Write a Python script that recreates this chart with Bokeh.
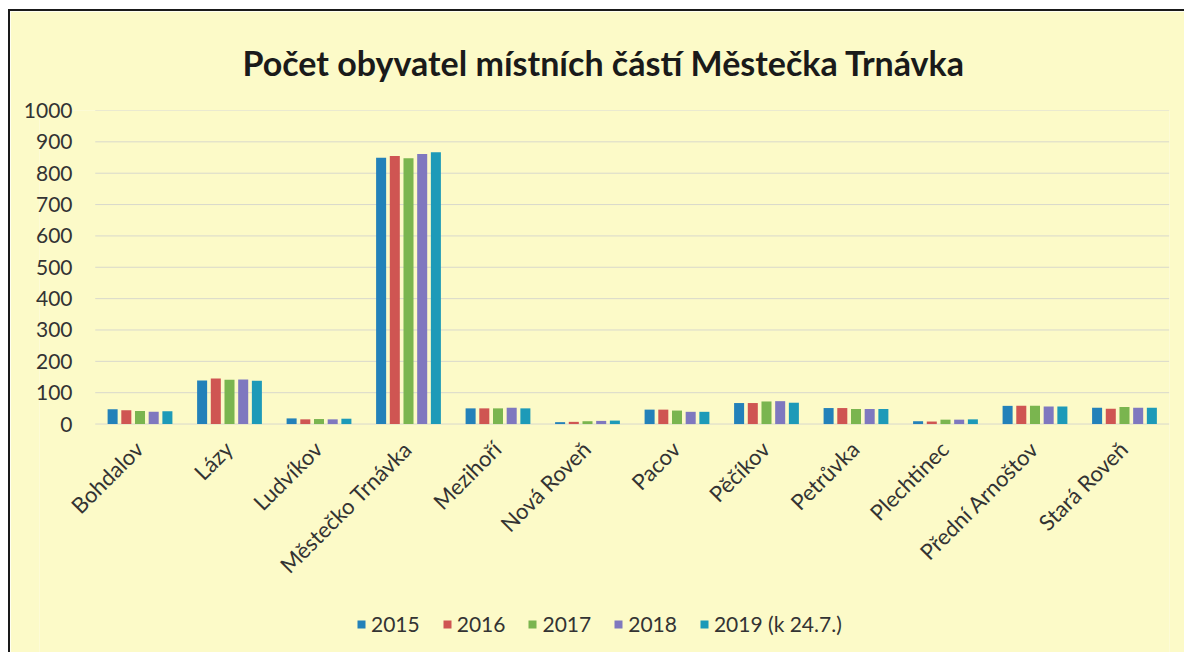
from math import pi
from bokeh.plotting import figure
from bokeh.models import ColumnDataSource, Range1d, Legend, LegendItem, FixedTicker
from bokeh.core.properties import value
from bokeh.transform import dodge
from bokeh.embed import file_html
from bokeh.resources import INLINE

categories = ["Bohdalov", "Lázy", "Ludvíkov", "Městečko Trnávka", "Mezihoří", "Nová Roveň",
              "Pacov", "Pěčíkov", "Petrůvka", "Plechtinec", "Přední Arnoštov", "Stará Roveň"]
series_names = ["2015", "2016", "2017", "2018", "2019 (k 24.7.)"]
v2015 = [47, 139, 18, 849, 50, 6, 46, 67, 51, 9, 58, 52]
v2016 = [44, 145, 15, 855, 50, 7, 46, 67, 51, 8, 58, 49]
v2017 = [42, 141, 16, 848, 50, 9, 43, 72, 48, 14, 58, 54]
v2018 = [39, 142, 15, 861, 52, 10, 39, 73, 48, 14, 56, 52]
v2019 = [41, 138, 17, 867, 50, 11, 39, 68, 48, 15, 56, 52]
y_ticks = [0, 100, 200, 300, 400, 500, 600, 700, 800, 900, 1000]
colors = ["#2381b9", "#cf5552", "#7ab54f", "#7f78bf", "#1d9ab8"]

BG = "#fcfac8"
TXT = "#333333"
FONT = "Lato"

n = len(categories)
source = ColumnDataSource(dict(idx=list(range(n)), cat=categories, base=[0] * n,
                               s0=v2015, s1=v2016, s2=v2017, s3=v2018, s4=v2019))
grid_src = ColumnDataSource(dict(x0=[-0.5] * len(y_ticks), x1=[n - 0.5] * len(y_ticks),
                                 y=y_ticks))

p = figure(width=1176, height=643, x_range=Range1d(-1.123, 11.503),
           y_range=Range1d(-735, 1000), output_backend="svg", toolbar_location=None,
           x_axis_location=None,
           background_fill_color=BG, border_fill_color=BG)
p.outline_line_color = None
p.min_border_left = 29
p.min_border_right = 17
p.min_border_top = 99
p.min_border_bottom = 0

p.title.text = "Počet obyvatel místních částí Městečka Trnávka"
p.title.align = "left"
p.title.offset = 203
p.title.standoff = 56
p.title.text_font = FONT
p.title.text_font_size = "34px"
p.title.text_font_style = "bold"
p.title.text_color = "#1a1a1a"

# horizontal gridlines across the category area
p.segment(x0="x0", x1="x1", y0="y", y1="y", source=grid_src,
          line_color="#d8d8cc", line_width=1)

pitch = 0.153
bw = 0.112
items = []
for i, (col, name) in enumerate(zip(["s0", "s1", "s2", "s3", "s4"], series_names)):
    r = p.vbar(x=dodge("idx", (i - 2) * pitch), top=col, width=bw,
               source=source, fill_color=colors[i], line_color=None)
    items.append(LegendItem(label=name, renderers=[r]))

# category labels, rotated 45 degrees, ending just below each group
p.text(x="idx", y="base", text="cat", source=source, angle=pi / 4,
       text_align="right", text_baseline="middle", x_offset=-1, y_offset=21,
       text_font=value(FONT), text_font_size="22px", text_color=TXT)

p.yaxis.ticker = FixedTicker(ticks=y_ticks)
p.yaxis.axis_line_color = None
p.yaxis.major_tick_line_color = None
p.yaxis.minor_tick_line_color = None
p.yaxis.major_tick_out = 0
p.yaxis.major_tick_in = 0
p.yaxis.major_label_text_font = FONT
p.yaxis.major_label_text_font_size = "21px"
p.yaxis.major_label_text_color = TXT
p.yaxis.major_label_standoff = -33

p.xgrid.grid_line_color = None
p.ygrid.grid_line_color = None

legend = Legend(items=items, orientation="horizontal", location=(317, 18),
                label_text_font=FONT, label_text_font_size="21px", label_text_color=TXT,
                glyph_width=10, glyph_height=10, label_standoff=5, spacing=22, padding=0,
                background_fill_alpha=0, border_line_color=None, margin=0)
p.add_layout(legend)

p.styles = {"border-left": "2px solid #1a1a1a", "border-top": "2px solid #1a1a1a",
            "margin-left": "8px", "margin-top": "9px"}

open("out.html", "w").write(file_html(p, INLINE))
